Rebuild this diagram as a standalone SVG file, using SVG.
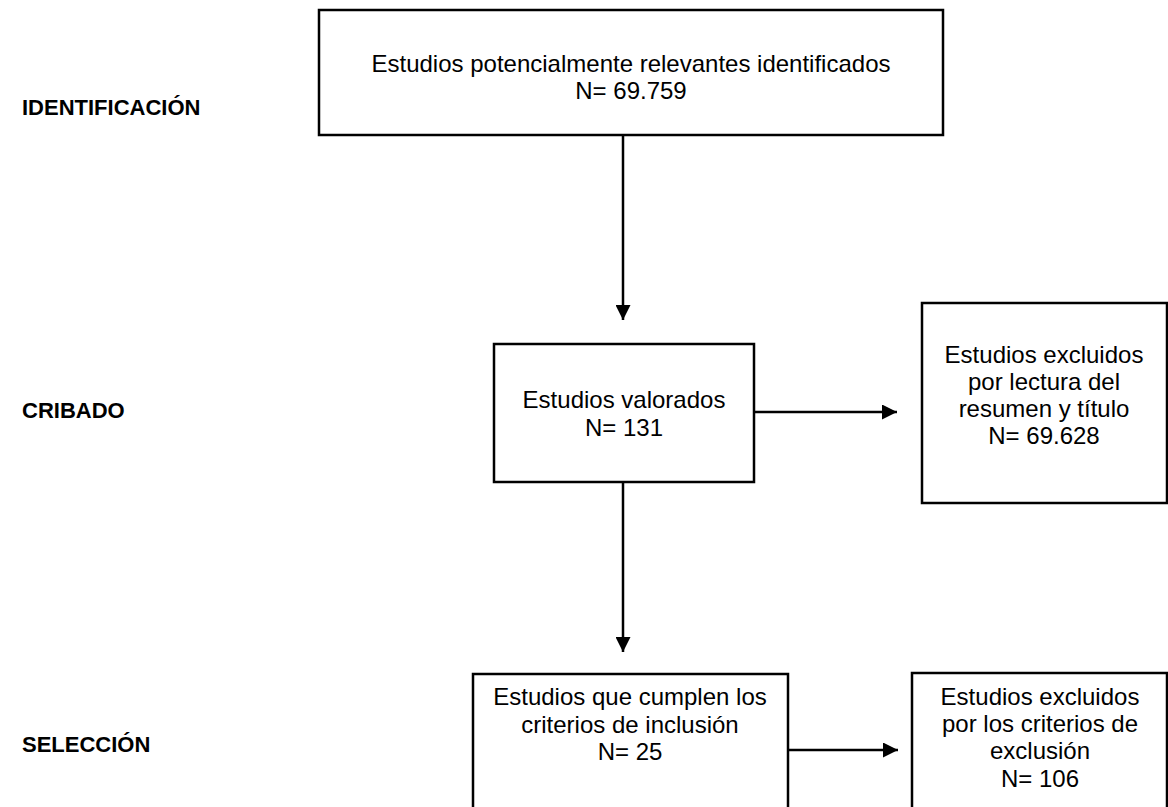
<svg xmlns="http://www.w3.org/2000/svg" width="1168" height="807" viewBox="0 0 1168 807">
<defs>
<style>
.box{fill:#fff;stroke:#000;stroke-width:2.5}
.t{font-family:"Liberation Sans",Arial,sans-serif;font-size:24px;fill:#000;text-anchor:middle}
.lab{font-family:"Liberation Sans",Arial,sans-serif;font-size:22px;font-weight:bold;fill:#000}
.ln{stroke:#000;stroke-width:2.5;fill:none}
</style>
<marker id="ah" viewBox="0 0 10 10" refX="10" refY="5" markerWidth="6.4" markerHeight="6" markerUnits="strokeWidth" orient="auto">
<path d="M0,0 L10,5 L0,10 z" fill="#000"/>
</marker>
</defs>
<rect width="1168" height="807" fill="#fff"/>
<g id="labels">
<text class="lab" x="22" y="115">IDENTIFICACIÓN</text>
<text class="lab" x="22" y="418">CRIBADO</text>
<text class="lab" x="22" y="752">SELECCIÓN</text>
</g>
<g id="connectors">
<line class="ln" x1="623" y1="135" x2="623" y2="320" marker-end="url(#ah)"/>
<line class="ln" x1="754" y1="412" x2="897" y2="412" marker-end="url(#ah)"/>
<line class="ln" x1="623" y1="482" x2="623" y2="652" marker-end="url(#ah)"/>
<line class="ln" x1="788" y1="750" x2="898" y2="750" marker-end="url(#ah)"/>
</g>
<g id="n1">
<rect class="box" x="319" y="10" width="624" height="125"/>
<text class="t" x="631" y="72">Estudios potencialmente relevantes identificados</text>
<text class="t" x="631" y="99">N= 69.759</text>
</g>
<g id="n2">
<rect class="box" x="494" y="344" width="260" height="138"/>
<text class="t" x="624" y="408">Estudios valorados</text>
<text class="t" x="624" y="436">N= 131</text>
</g>
<g id="n3">
<rect class="box" x="922" y="303" width="245" height="200"/>
<text class="t" x="1044" y="363">Estudios excluidos</text>
<text class="t" x="1044" y="390">por lectura del</text>
<text class="t" x="1044" y="417">resumen y título</text>
<text class="t" x="1044" y="444">N= 69.628</text>
</g>
<g id="n4">
<rect class="box" x="473" y="674" width="315" height="150"/>
<text class="t" x="630" y="705">Estudios que cumplen los</text>
<text class="t" x="630" y="733">criterios de inclusión</text>
<text class="t" x="630" y="760">N= 25</text>
</g>
<g id="n5">
<rect class="box" x="912" y="673" width="255" height="150"/>
<text class="t" x="1040" y="705">Estudios excluidos</text>
<text class="t" x="1040" y="732">por los criterios de</text>
<text class="t" x="1040" y="759">exclusión</text>
<text class="t" x="1040" y="787">N= 106</text>
</g>
</svg>
